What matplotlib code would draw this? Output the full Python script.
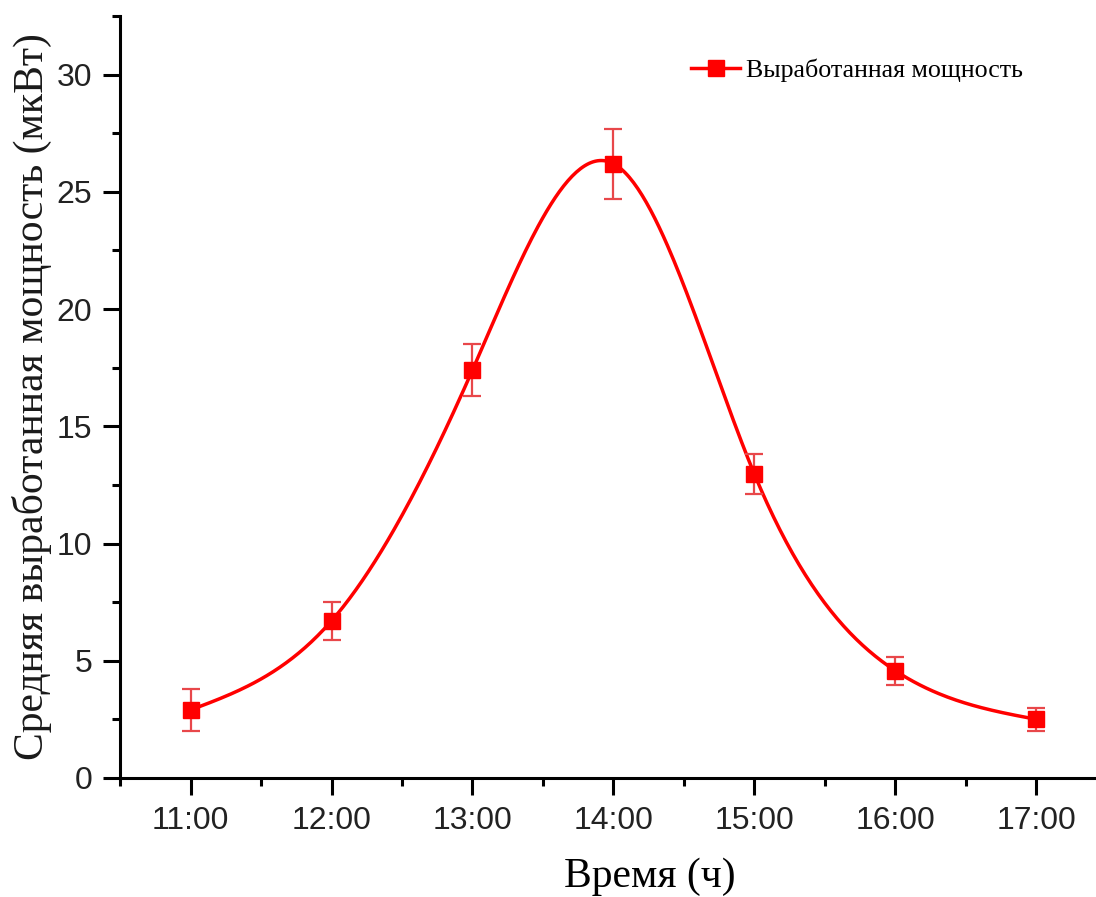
import matplotlib
matplotlib.use("Agg")
import matplotlib.pyplot as plt
import matplotlib.ticker as ticker
import numpy as np

hours = [11, 12, 13, 14, 15, 16, 17]
tick_labels = ["11:00", "12:00", "13:00", "14:00", "15:00", "16:00", "17:00"]
power = [2.9, 6.7, 17.4, 26.2, 12.95, 4.57, 2.5]
power_err = [0.9, 0.8, 1.1, 1.5, 0.85, 0.6, 0.5]

RED = "#FF0000"
ERR_RED = "#E8474A"


def natural_spline(x, y, xs):
    # plain natural cubic spline, just for the smooth line through the points
    x = np.asarray(x, float)
    y = np.asarray(y, float)
    n = len(x)
    h = np.diff(x)
    A = np.zeros((n, n))
    b = np.zeros(n)
    A[0, 0] = A[-1, -1] = 1
    for i in range(1, n - 1):
        A[i, i - 1] = h[i - 1]
        A[i, i] = 2 * (h[i - 1] + h[i])
        A[i, i + 1] = h[i]
        b[i] = 3 * ((y[i + 1] - y[i]) / h[i] - (y[i] - y[i - 1]) / h[i - 1])
    c = np.linalg.solve(A, b)
    out = np.empty_like(xs)
    for k, xv in enumerate(xs):
        i = min(np.searchsorted(x, xv, side="right") - 1, n - 2)
        i = max(i, 0)
        dx = xv - x[i]
        bi = (y[i + 1] - y[i]) / h[i] - h[i] * (2 * c[i] + c[i + 1]) / 3
        di = (c[i + 1] - c[i]) / (3 * h[i])
        out[k] = y[i] + bi * dx + c[i] * dx ** 2 + di * dx ** 3
    return out


fig = plt.figure(figsize=(10.96, 8.97), dpi=100)
ax = fig.add_axes([0.1095, 0.1327, 0.9005, 0.8495])

xs = np.linspace(hours[0], hours[-1], 400)
ax.plot(xs, natural_spline(hours, power, xs), color=RED, linewidth=2.5, zorder=2)
ax.errorbar(hours, power, yerr=power_err, fmt="none", ecolor=ERR_RED,
            elinewidth=1.6, capsize=6.5, capthick=1.6, zorder=3)
ax.plot(hours, power, linestyle="none", marker="s", markersize=11.5,
        color=RED, zorder=4)

# legend handle: line with square marker
ax.plot([], [], color=RED, marker="s", markersize=11.5, linewidth=2.5,
        label="Выработанная мощность")
leg = ax.legend(loc="upper right", bbox_to_anchor=(0.938, 0.975), frameon=False,
                handlelength=1.9, handletextpad=0.2,
                prop={"family": "Liberation Serif", "size": 18.7})

ax.set_xlim(10.5, 17.5)
ax.set_ylim(0, 32.5)
ax.set_xticks(hours)
ax.set_xticklabels(tick_labels)
ax.xaxis.set_minor_locator(ticker.MultipleLocator(0.5))
ax.yaxis.set_major_locator(ticker.MultipleLocator(5))
ax.yaxis.set_minor_locator(ticker.MultipleLocator(2.5))

for side in ("top", "right"):
    ax.spines[side].set_visible(False)
for side in ("left", "bottom"):
    ax.spines[side].set_linewidth(2.2)

ax.tick_params(which="major", direction="out", length=12, width=2.2,
               labelsize=23, colors="black", labelcolor="#222222", pad=8)
ax.tick_params(which="minor", direction="out", length=6, width=2.2)
for lab in ax.get_xticklabels() + ax.get_yticklabels():
    lab.set_family("Liberation Sans")

ax.set_xlabel("Время (ч)", family="Liberation Serif", fontsize=30)
ax.xaxis.set_label_coords(0.537, -0.105, transform=ax.transAxes)
ax.set_ylabel("Средняя выработанная мощность (мкВт)", family="Liberation Serif",
              fontsize=30, labelpad=3, color="#1a1a1a")

fig.savefig("out.png", dpi=100)
